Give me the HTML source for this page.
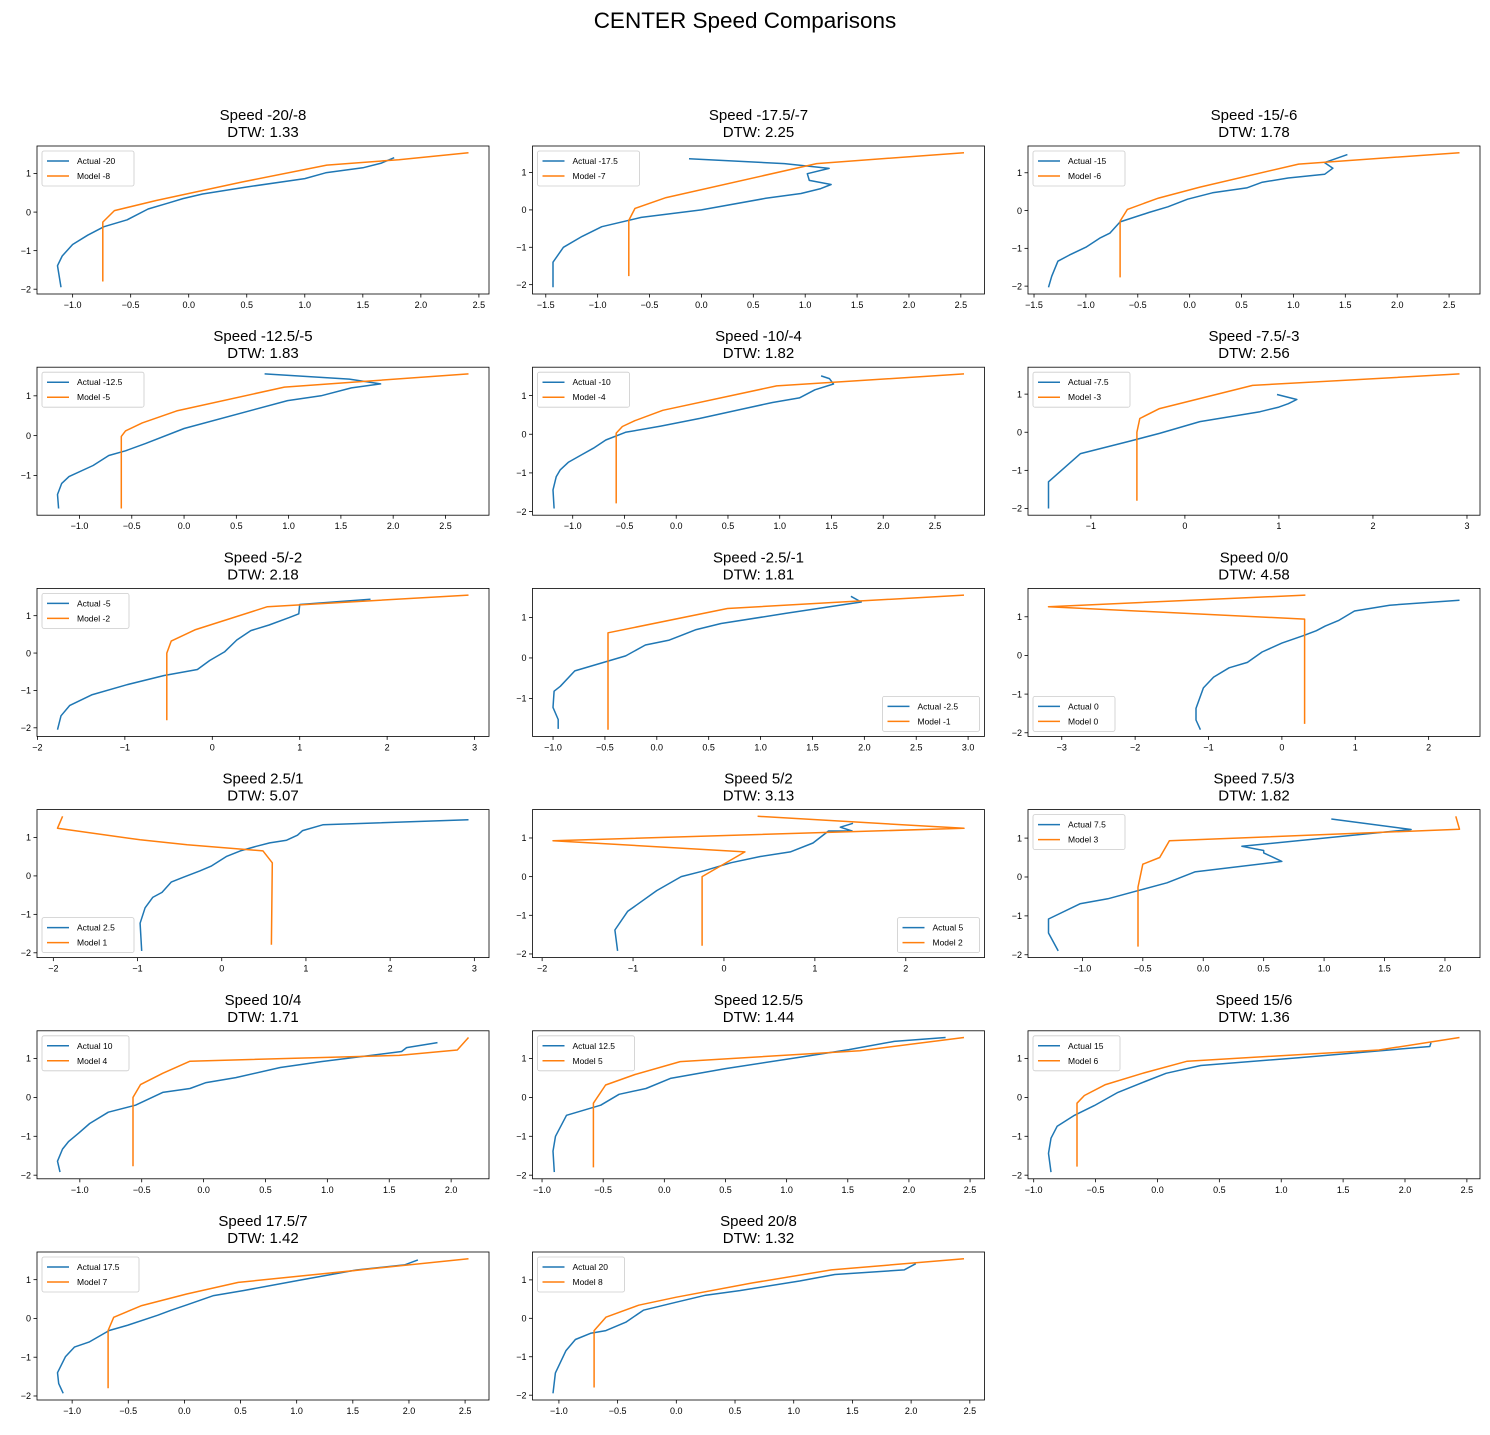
<!DOCTYPE html>
<html><head><meta charset="utf-8"><style>
body{margin:0;background:#fff;}
svg text{font-family:"Liberation Sans","DejaVu Sans",sans-serif;}
</style></head><body>
<svg id="fig" xmlns="http://www.w3.org/2000/svg" width="1490" height="1430" viewBox="0 0 1490 1430">
<rect x="0" y="0" width="1490" height="1430" fill="#fff"/>
<text x="745" y="28" font-size="22.5" text-anchor="middle" fill="#000">CENTER Speed Comparisons</text>
</svg>
<script>
const titles = ["Speed -20/-8","Speed -17.5/-7","Speed -15/-6","Speed -12.5/-5","Speed -10/-4","Speed -7.5/-3","Speed -5/-2","Speed -2.5/-1","Speed 0/0","Speed 2.5/1","Speed 5/2","Speed 7.5/3","Speed 10/4","Speed 12.5/5","Speed 15/6","Speed 17.5/7","Speed 20/8"];
const dtw = ["1.33","2.25","1.78","1.83","1.82","2.56","2.18","1.81","4.58","5.07","3.13","1.82","1.71","1.44","1.36","1.42","1.32"];
const actualLabels = ["Actual -20","Actual -17.5","Actual -15","Actual -12.5","Actual -10","Actual -7.5","Actual -5","Actual -2.5","Actual 0","Actual 2.5","Actual 5","Actual 7.5","Actual 10","Actual 12.5","Actual 15","Actual 17.5","Actual 20"];
const modelLabels = ["Model -8","Model -7","Model -6","Model -5","Model -4","Model -3","Model -2","Model -1","Model 0","Model 1","Model 2","Model 3","Model 4","Model 5","Model 6","Model 7","Model 8"];
const legendLoc = ["ul","ul","ul","ul","ul","ul","ul","lr","ll","ll","lr","ul","ul","ul","ul","ul","ul"];
const actualData = [
[[-1.10,-1.95],[-1.13,-1.39],[-1.09,-1.14],[-1.00,-0.84],[-0.87,-0.60],[-0.73,-0.38],[-0.53,-0.20],[-0.35,0.08],[-0.18,0.23],[-0.05,0.35],[0.12,0.47],[0.5,0.65],[1.0,0.87],[1.18,1.02],[1.5,1.15],[1.66,1.27],[1.77,1.41]],
[[-1.43,-2.07],[-1.43,-1.4],[-1.33,-1.0],[-1.15,-0.71],[-0.96,-0.45],[-0.58,-0.2],[0,0],[0.62,0.31],[0.96,0.44],[1.15,0.57],[1.25,0.68],[1.04,0.79],[1.02,0.97],[1.23,1.11],[0.80,1.24],[-0.12,1.37]],
[[-1.36,-2.03],[-1.33,-1.74],[-1.27,-1.34],[-1.16,-1.18],[-1.0,-0.97],[-0.86,-0.72],[-0.77,-0.6],[-0.67,-0.30],[-0.39,-0.05],[-0.21,0.1],[-0.02,0.3],[0.22,0.47],[0.55,0.6],[0.7,0.75],[0.95,0.86],[1.3,0.96],[1.38,1.12],[1.3,1.27],[1.52,1.48]],
[[-1.2,-1.83],[-1.21,-1.48],[-1.17,-1.2],[-1.1,-1.03],[-0.87,-0.75],[-0.72,-0.5],[-0.56,-0.38],[-0.37,-0.2],[0,0.18],[0.99,0.88],[1.31,1.0],[1.6,1.2],[1.88,1.30],[1.58,1.42],[0.77,1.55]],
[[-1.18,-1.92],[-1.19,-1.44],[-1.16,-1.1],[-1.12,-0.92],[-1.04,-0.72],[-0.92,-0.54],[-0.8,-0.36],[-0.68,-0.15],[-0.49,0.05],[-0.15,0.21],[0.23,0.41],[0.62,0.64],[0.93,0.82],[1.19,0.94],[1.34,1.15],[1.52,1.3],[1.48,1.44],[1.40,1.51]],
[[-1.45,-2.0],[-1.45,-1.3],[-1.11,-0.56],[-0.58,-0.23],[-0.27,-0.03],[0.16,0.28],[0.80,0.54],[1.0,0.66],[1.10,0.75],[1.19,0.86],[0.98,0.99]],
[[-1.77,-2.05],[-1.73,-1.68],[-1.63,-1.40],[-1.38,-1.12],[-0.98,-0.85],[-0.55,-0.60],[-0.17,-0.44],[-0.03,-0.2],[0.14,0.03],[0.28,0.35],[0.44,0.6],[0.65,0.75],[0.88,0.95],[0.99,1.05],[1.0,1.3],[1.81,1.44]],
[[-0.95,-1.75],[-0.95,-1.52],[-1.0,-1.22],[-0.99,-0.82],[-0.93,-0.7],[-0.79,-0.32],[-0.30,0.05],[-0.11,0.32],[0.12,0.44],[0.38,0.70],[0.62,0.85],[1.24,1.1],[1.97,1.38],[1.87,1.52]],
[[-1.11,-1.92],[-1.17,-1.67],[-1.17,-1.37],[-1.07,-0.84],[-0.93,-0.56],[-0.72,-0.32],[-0.47,-0.18],[-0.27,0.09],[0,0.32],[0.29,0.51],[0.47,0.64],[0.59,0.76],[0.77,0.90],[0.99,1.15],[1.47,1.30],[2.42,1.43]],
[[-0.95,-1.95],[-0.97,-1.23],[-0.91,-0.83],[-0.82,-0.56],[-0.71,-0.43],[-0.60,-0.16],[-0.45,-0.03],[-0.26,0.13],[-0.12,0.26],[0.06,0.51],[0.22,0.65],[0.41,0.77],[0.57,0.86],[0.77,0.93],[0.90,1.06],[0.96,1.18],[1.20,1.33],[2.93,1.46]],
[[-1.17,-1.92],[-1.2,-1.38],[-1.06,-0.9],[-0.74,-0.36],[-0.47,0],[-0.22,0.15],[0.08,0.36],[0.40,0.52],[0.73,0.64],[0.98,0.87],[1.15,1.18],[1.41,1.18],[1.28,1.28],[1.42,1.38]],
[[-1.2,-1.9],[-1.28,-1.44],[-1.28,-1.08],[-1.02,-0.69],[-0.79,-0.56],[-0.30,-0.15],[-0.07,0.13],[0.65,0.40],[0.5,0.62],[0.5,0.68],[0.32,0.79],[1.72,1.22],[1.06,1.49]],
[[-1.16,-1.92],[-1.18,-1.64],[-1.14,-1.33],[-1.09,-1.13],[-1.01,-0.92],[-0.92,-0.67],[-0.77,-0.38],[-0.55,-0.2],[-0.33,0.13],[-0.11,0.23],[0.02,0.38],[0.26,0.51],[0.62,0.77],[0.95,0.92],[1.60,1.18],[1.64,1.28],[1.89,1.41]],
[[-0.9,-1.92],[-0.91,-1.38],[-0.89,-1.0],[-0.8,-0.46],[-0.52,-0.2],[-0.37,0.08],[-0.15,0.23],[0.05,0.49],[0.5,0.74],[1.1,1.03],[1.51,1.23],[1.88,1.44],[2.3,1.54]],
[[-0.86,-1.92],[-0.88,-1.44],[-0.86,-1.05],[-0.81,-0.74],[-0.67,-0.46],[-0.51,-0.21],[-0.32,0.13],[-0.10,0.41],[0.07,0.62],[0.35,0.82],[1.14,1.02],[2.2,1.31],[2.21,1.41]],
[[-1.08,-1.93],[-1.12,-1.68],[-1.13,-1.40],[-1.06,-0.99],[-0.98,-0.74],[-0.85,-0.61],[-0.67,-0.31],[-0.51,-0.18],[-0.24,0.08],[-0.12,0.21],[0.02,0.35],[0.26,0.59],[0.53,0.72],[1.03,0.99],[1.53,1.25],[1.96,1.38],[2.08,1.51]],
[[-1.05,-1.95],[-1.03,-1.42],[-0.94,-0.84],[-0.86,-0.55],[-0.73,-0.39],[-0.6,-0.32],[-0.43,-0.1],[-0.28,0.21],[0,0.42],[0.25,0.6],[0.54,0.72],[1.05,0.97],[1.35,1.14],[1.94,1.26],[2.04,1.42]]
];
const modelData = [
[[-0.74,-1.80],[-0.74,-0.26],[-0.64,0.04],[-0.28,0.3],[0.46,0.78],[1.19,1.22],[1.81,1.36],[2.41,1.54]],
[[-0.70,-1.77],[-0.70,-0.28],[-0.64,0.04],[-0.34,0.33],[1.11,1.24],[2.53,1.53]],
[[-0.67,-1.77],[-0.67,-0.28],[-0.6,0.03],[-0.3,0.33],[0.1,0.62],[1.05,1.23],[2.6,1.53]],
[[-0.6,-1.83],[-0.6,-0.02],[-0.56,0.12],[-0.4,0.32],[-0.07,0.62],[0.96,1.22],[2.72,1.55]],
[[-0.58,-1.79],[-0.58,0.03],[-0.52,0.2],[-0.40,0.35],[-0.13,0.62],[0.97,1.25],[2.78,1.56]],
[[-0.51,-1.80],[-0.51,0],[-0.48,0.36],[-0.27,0.62],[0.72,1.23],[2.92,1.53]],
[[-0.52,-1.80],[-0.52,0.0],[-0.47,0.32],[-0.2,0.62],[0.63,1.24],[2.93,1.55]],
[[-0.47,-1.77],[-0.47,0.62],[0.68,1.22],[2.96,1.55]],
[[0.31,-1.77],[0.31,0.94],[-3.18,1.26],[0.32,1.56]],
[[0.59,-1.79],[0.60,0.34],[0.49,0.65],[-0.41,0.81],[-0.97,0.94],[-1.95,1.24],[-1.89,1.55]],
[[-0.24,-1.79],[-0.24,0],[0.23,0.64],[-1.88,0.93],[2.64,1.25],[0.37,1.56]],
[[-0.54,-1.79],[-0.54,-0.26],[-0.5,0.33],[-0.36,0.5],[-0.28,0.93],[2.12,1.23],[2.09,1.56]],
[[-0.57,-1.77],[-0.57,0],[-0.51,0.33],[-0.33,0.62],[-0.11,0.93],[1.58,1.08],[2.05,1.22],[2.14,1.54]],
[[-0.58,-1.80],[-0.58,-0.15],[-0.48,0.32],[-0.24,0.59],[0.13,0.92],[1.6,1.2],[2.45,1.54]],
[[-0.65,-1.78],[-0.65,-0.15],[-0.59,0.05],[-0.42,0.33],[-0.12,0.62],[0.24,0.93],[1.79,1.22],[2.44,1.54]],
[[-0.68,-1.80],[-0.68,-0.31],[-0.63,0.03],[-0.38,0.33],[0.02,0.63],[0.48,0.93],[1.5,1.23],[2.53,1.54]],
[[-0.7,-1.80],[-0.7,-0.32],[-0.6,0.03],[-0.32,0.34],[0,0.55],[0.65,0.92],[1.32,1.26],[2.45,1.55]]
];

const NS = "http://www.w3.org/2000/svg";
const svg = document.getElementById('fig');
const BLUE = "#1f77b4", ORANGE = "#ff7f0e";
function mk(tag, attrs, parent){const e=document.createElementNS(NS,tag);for(const k in attrs)e.setAttribute(k,attrs[k]);(parent||svg).appendChild(e);return e;}
function fmt(v,step){let s=step<1?Math.abs(v).toFixed(1):String(Math.abs(Math.round(v)));return (v<-1e-9?"\u2212":"")+s;}

for(let i=0;i<titles.length;i++){
  const col=i%3,row=Math.floor(i/3);
  const L=37+col*495.5, T=146+row*221.2, W=452, H=148;
  const g=mk('g',{});
  
  
  const all=actualData[i].concat(modelData[i]);
  let xmin=Math.min(...all.map(p=>p[0])),xmax=Math.max(...all.map(p=>p[0]));
  let ymin=Math.min(...all.map(p=>p[1])),ymax=Math.max(...all.map(p=>p[1]));
  const dx=(xmax-xmin)*0.05,dy=(ymax-ymin)*0.05;
  xmin-=dx;xmax+=dx;ymin-=dy;ymax+=dy;
  const sx=v=>L+(v-xmin)/(xmax-xmin)*W;
  const sy=v=>T+H-(v-ymin)/(ymax-ymin)*H;
  let step=0.5;
  let n=Math.floor(xmax/0.5)-Math.ceil(xmin/0.5)+1;
  if(n>9)step=1;
  for(let t=Math.ceil(xmin/step)*step;t<=xmax+1e-9;t+=step){
    const x=sx(t);
    mk('line',{x1:x,y1:T+H,x2:x,y2:T+H+3.5,stroke:'#000','stroke-width':0.8},g);
    const tx=mk('text',{x:x,y:T+H+14,'font-size':9,'text-anchor':'middle',fill:'#000'},g);
    
    
    tx.textContent=fmt(t,step);
  }
  for(let t=Math.ceil(ymin);t<=ymax+1e-9;t+=1){
    const y=sy(t);
    mk('line',{x1:L-3.5,y1:y,x2:L,y2:y,stroke:'#000','stroke-width':0.8},g);
    const ty=mk('text',{x:L-6,y:y+3.2,'font-size':9,'text-anchor':'end',fill:'#000'},g);
    
    
    ty.textContent=fmt(t,1);
  }
  const pa=mk('polyline',{points:actualData[i].map(p=>sx(p[0]).toFixed(1)+','+sy(p[1]).toFixed(1)).join(' '),fill:'none',stroke:BLUE,'stroke-width':1.5,'stroke-linejoin':'round'},g);
  
  
  const pm=mk('polyline',{points:modelData[i].map(p=>sx(p[0]).toFixed(1)+','+sy(p[1]).toFixed(1)).join(' '),fill:'none',stroke:ORANGE,'stroke-width':1.5,'stroke-linejoin':'round'},g);
  
  
  const fr=mk('rect',{x:L,y:T,width:W,height:H,fill:'none',stroke:'#000','stroke-width':0.8},g);
  
  
  const t1=mk('text',{x:L+W/2,y:T-26,'font-size':15,'text-anchor':'middle',fill:'#000'},g);
  
  
  t1.textContent=titles[i];
  const t2=mk('text',{x:L+W/2,y:T-9,'font-size':15,'text-anchor':'middle',fill:'#000'},g);
  
  
  t2.textContent='DTW: '+dtw[i];
  const lw=Math.max(actualLabels[i].length,modelLabels[i].length)*5.0+42, lh=35;
  const loc=legendLoc[i];
  const lx=(loc==='lr')?L+W-5-lw:L+5;
  const ly=(loc==='ul')?T+5:T+H-5-lh;
  const lg=mk('g',{},g);
  
  
  mk('rect',{x:lx,y:ly,width:lw,height:lh,rx:2,fill:'#fff','fill-opacity':0.8,stroke:'#ccc','stroke-width':0.8},lg);
  const ents=[[actualLabels[i],BLUE],[modelLabels[i],ORANGE]];
  ents.forEach((e,k)=>{
    const yy=ly+10+k*15;
    const le=mk('g',{},lg);
    
    
    mk('line',{x1:lx+5,y1:yy,x2:lx+27,y2:yy,stroke:e[1],'stroke-width':1.5},le);
    const lt=mk('text',{x:lx+35,y:yy+3,'font-size':8.5,fill:'#000'},le);
    lt.textContent=e[0];
  });
}
</script>
</body></html>
